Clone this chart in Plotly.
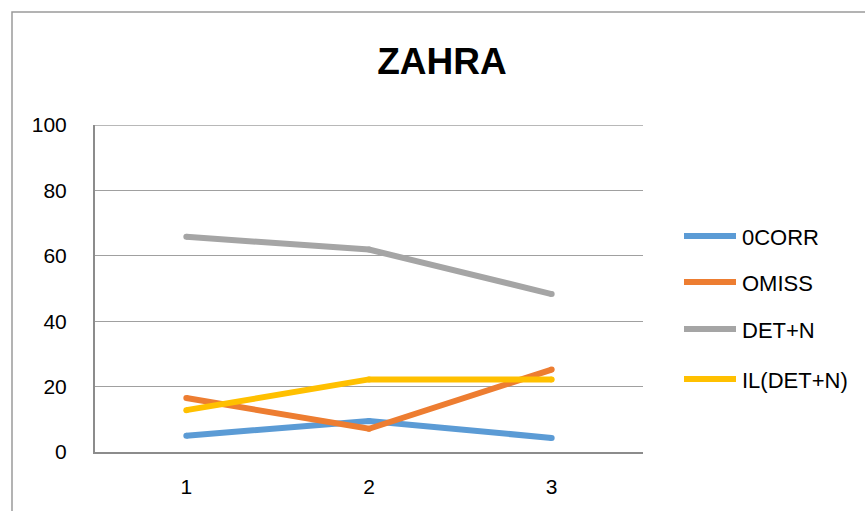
import plotly.graph_objects as go

categories = ["1", "2", "3"]
series_names = ["0CORR", "OMISS", "DET+N", "IL(DET+N)"]
corr0 = [5.0, 9.5, 4.3]
omiss = [16.5, 7.1, 25.2]
det_n = [65.8, 61.9, 48.3]
il_det_n = [12.8, 22.2, 22.2]
y_ticks = [0, 20, 40, 60, 80, 100]
colors = ["#5B9BD5", "#ED7D31", "#A5A5A5", "#FFC000"]

W, H = 865, 511
PL, PR, PT, PB = 95, 643, 125, 452  # plot area in pixels
FONT = "Liberation Sans, Arial, sans-serif"
GRID = "#a0a0a0"

fig = go.Figure()
for name, vals, col in zip(series_names, [corr0, omiss, det_n, il_det_n], colors):
    fig.add_trace(go.Scatter(
        x=categories, y=vals, name=name, mode="lines+markers",
        line=dict(color=col, width=6),
        marker=dict(color=col, size=6, line=dict(width=0)),
        showlegend=False, hoverinfo="x+y+name",
    ))

def px_x(p):
    return (p - PL) / (PR - PL)

def px_y(p):
    return (PB - p) / (PB - PT)

shapes = []
annotations = []
# outer chart border
shapes.append(dict(type="rect", xref="paper", yref="paper",
                   x0=px_x(12), x1=px_x(900), y0=px_y(12), y1=px_y(540),
                   line=dict(color="#9a9a9a", width=1.5), fillcolor="rgba(0,0,0,0)",
                   layer="below"))
# top gridline (at the edge of the range, not drawn by plotly)
shapes.append(dict(type="line", xref="paper", yref="y", x0=0, x1=1,
                   y0=y_ticks[-1], y1=y_ticks[-1], line=dict(color=GRID, width=1.3),
                   layer="below"))
# custom legend
rows = [236, 282, 329, 379]
for name, col, ry in zip(series_names, colors, rows):
    shapes.append(dict(type="line", xref="paper", yref="paper",
                       x0=px_x(684), x1=px_x(736), y0=px_y(ry), y1=px_y(ry),
                       line=dict(color=col, width=6)))
    annotations.append(dict(xref="paper", yref="paper", x=px_x(740), y=px_y(ry),
                            xanchor="left", yanchor="middle", text=name,
                            showarrow=False, font=dict(family=FONT, size=22, color="#000000"),
                            yshift=-1))

fig.update_layout(
    width=W, height=H,
    margin=dict(l=PL, r=W - PR, t=PT, b=H - PB, pad=0),
    paper_bgcolor="white", plot_bgcolor="white",
    title=dict(text="<b>ZAHRA</b>", x=442 / W, xref="container", xanchor="center",
               y=1 - 61 / H, yref="container", yanchor="middle",
               font=dict(family=FONT, size=37, color="#000000")),
    showlegend=False,
    shapes=shapes,
    annotations=annotations,
    xaxis=dict(type="category", range=[-0.5, 2.5], showgrid=False,
               showline=True, linecolor="#8c8c8c", linewidth=2,
               ticks="", ticklabelstandoff=15,
               tickfont=dict(family=FONT, size=21, color="#000000"),
               zeroline=False, fixedrange=True),
    yaxis=dict(range=[0, 100], tickvals=y_ticks, ticktext=[str(v) for v in y_ticks],
               showgrid=True, gridcolor=GRID, gridwidth=1.3,
               showline=True, linecolor="#8c8c8c", linewidth=2,
               ticks="", ticklabelstandoff=22,
               tickfont=dict(family=FONT, size=21, color="#000000"),
               zeroline=False, fixedrange=True),
)

fig.write_html("out.html", config={"displayModeBar": False},
               post_script="document.body.style.margin='0';document.body.style.overflow='hidden';")
